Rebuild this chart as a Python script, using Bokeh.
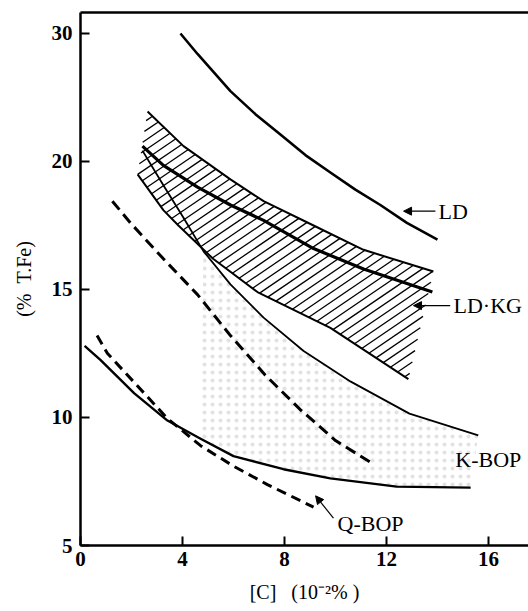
import numpy as np
from bokeh.plotting import figure
from bokeh.models import Range1d, FixedTicker, LinearAxis, Label, Arrow, NormalHead
from bokeh.embed import file_html
from bokeh.resources import INLINE

# ---------------- axis definitions ----------------
X_TICKS = [0, 4, 8, 12, 16]
Y_TICK_VALUES = [5, 10, 15, 20, 30]      # % T.Fe labels (equally spaced in the original figure)
Y_TICK_POS = [0, 1, 2, 3, 4]

def ypos(v):
    return np.interp(v, Y_TICK_VALUES, Y_TICK_POS)

# ---------------- data: [C] (10^-2 %) vs % T.Fe ----------------
LD_C = [3.92, 4.59, 5.88, 6.86, 7.84, 8.82, 9.80, 10.78, 11.76, 12.8, 14.0]
LD_FE = [30.0, 28.4, 25.5, 23.7, 22.1, 20.5, 19.57, 18.9, 18.3, 17.6, 16.95]

LDKG_C = [2.43, 3.25, 4.59, 5.88, 7.18, 9.14, 11.1, 13.8]
LDKG_FE = [21.2, 19.85, 19.0, 18.3, 17.7, 16.6, 15.8, 14.9]

BAND_TOP_C = [2.63, 4.04, 5.88, 7.18, 9.14, 11.1, 13.84]
BAND_TOP_FE = [23.9, 21.2, 19.3, 18.45, 17.5, 16.55, 15.7]
BAND_BOT_C = [2.24, 3.25, 3.84, 5.2, 6.94, 9.8, 12.86]
BAND_BOT_FE = [19.5, 18.1, 17.5, 16.2, 14.9, 13.5, 11.5]

KBOP_TOP_C = [2.43, 3.25, 4.04, 4.82, 5.88, 7.18, 8.75, 10.6, 12.9, 15.6]
KBOP_TOP_FE = [20.85, 19.07, 17.8, 16.5, 15.2, 13.9, 12.6, 11.4, 10.15, 9.3]

LOW_C = [0.16, 0.78, 2.1, 3.41, 4.71, 6.0, 7.96, 9.8, 12.4, 15.3]
LOW_FE = [12.8, 12.25, 10.95, 9.88, 9.17, 8.49, 7.98, 7.62, 7.3, 7.26]

QBOP_C = [0.65, 1.06, 2.08, 3.41, 4.71, 6.0, 7.33, 9.14]
QBOP_FE = [13.2, 12.5, 11.4, 9.96, 8.9, 8.1, 7.38, 6.5]

UD_C = [1.25, 1.96, 3.25, 4.59, 5.88, 7.25, 8.63, 10.0, 11.45]
UD_FE = [18.45, 17.6, 16.2, 14.8, 13.2, 11.65, 10.3, 9.1, 8.2]

FONT = "Liberation Serif"
X_END, Y_END = 17.57, 4.164
FRAME_W, FRAME_H = 448, 533
SX, SY = FRAME_W / X_END, FRAME_H / Y_END   # pixels per data unit

p = figure(width=528, height=611, x_range=Range1d(0, X_END), y_range=Range1d(0, Y_END),
           output_backend="svg", toolbar_location=None,
           min_border_left=80, min_border_right=0, min_border_top=12, min_border_bottom=66)
p.grid.visible = False
p.outline_line_color = None
p.background_fill_color = "white"
p.border_fill_color = "white"

# ---------------- axes ----------------
xa = p.xaxis[0]
xa.ticker = FixedTicker(ticks=X_TICKS)
xa.axis_label = "[C]\u00a0\u00a0\u00a0(10\u207b\u00b2%\u00a0)"
ya = p.yaxis[0]
ya.ticker = FixedTicker(ticks=Y_TICK_POS)
ya.major_label_overrides = {pos: str(v) for pos, v in zip(Y_TICK_POS, Y_TICK_VALUES)}
ya.axis_label = "(%\u00a0\u00a0T.Fe)"
for ax in (xa, ya):
    ax.axis_line_width = 2.5
    ax.axis_line_color = "black"
    ax.major_tick_in = 9
    ax.major_tick_out = 0
    ax.major_tick_line_width = 2
    ax.minor_tick_in = 0
    ax.minor_tick_out = 0
    ax.major_label_text_font = FONT
    ax.major_label_text_font_size = "21px"
    ax.major_label_text_font_style = "bold"
    ax.major_label_text_color = "black"
    ax.axis_label_text_font = FONT
    ax.axis_label_text_font_size = "20px"
    ax.axis_label_text_font_style = "normal"
    ax.axis_label_text_color = "black"
xa.major_label_standoff = 6
xa.axis_label_standoff = 12
ya.major_label_standoff = 8
ya.axis_label_standoff = 14

top = LinearAxis(ticker=FixedTicker(ticks=[]), major_tick_in=0, major_tick_out=0,
                 minor_tick_in=0, minor_tick_out=0, major_label_text_font_size="0px",
                 axis_line_width=2.5, major_label_standoff=0)
p.add_layout(top, "above")

# ---------------- stippled K-BOP area ----------------
stip_x = KBOP_TOP_C[3:] + LOW_C[4:][::-1]
stip_y = list(ypos(KBOP_TOP_FE[3:])) + list(ypos(LOW_FE[4:]))[::-1]
p.patch(stip_x, stip_y, fill_alpha=0, line_color=None, hatch_pattern=".",
        hatch_color="#a0a0a0", hatch_alpha=0.3, hatch_scale=8, hatch_weight=0.3)

# ---------------- hatched LD-KG band (diagonal hatch lines clipped to band) ----------------
band_x = BAND_TOP_C + BAND_BOT_C[::-1]
band_y = list(ypos(BAND_TOP_FE)) + list(ypos(BAND_BOT_FE))[::-1]
PX = np.array(band_x) * SX
PY = np.array(band_y) * SY
TAN = 0.68
STEP = 9.6
kvals = PY - PX * TAN
hx0, hy0, hx1, hy1 = [], [], [], []
n = len(PX)
for k in np.arange(kvals.min() + STEP / 2, kvals.max(), STEP):
    xs = []
    for i in range(n):
        x1, y1, x2, y2 = PX[i], PY[i], PX[(i + 1) % n], PY[(i + 1) % n]
        f1, f2 = y1 - x1 * TAN - k, y2 - x2 * TAN - k
        if (f1 > 0) != (f2 > 0):
            t = f1 / (f1 - f2)
            xs.append(x1 + t * (x2 - x1))
    xs.sort()
    for a, b in zip(xs[0::2], xs[1::2]):
        hx0.append(a / SX); hy0.append((a * TAN + k) / SY)
        hx1.append(b / SX); hy1.append((b * TAN + k) / SY)
p.segment(hx0, hy0, hx1, hy1, line_color="black", line_width=1.3)
p.line(BAND_TOP_C, ypos(BAND_TOP_FE), line_color="black", line_width=2, line_join="round")
p.line(BAND_BOT_C, ypos(BAND_BOT_FE), line_color="black", line_width=2, line_join="round")

# ---------------- curves ----------------
p.line(LD_C, ypos(LD_FE), line_color="black", line_width=2.6, line_join="round")
p.line(LDKG_C, ypos(LDKG_FE), line_color="black", line_width=3.2, line_join="round")
p.line(KBOP_TOP_C, ypos(KBOP_TOP_FE), line_color="black", line_width=1.8, line_join="round")
p.line(LOW_C, ypos(LOW_FE), line_color="black", line_width=2.4, line_join="round")
p.line(UD_C, ypos(UD_FE), line_color="black", line_width=3, line_dash="11 6")
p.line(QBOP_C, ypos(QBOP_FE), line_color="black", line_width=3, line_dash="10 6")

# ---------------- labels ----------------
def add_label(txt, c, fe):
    p.add_layout(Label(x=c, y=float(ypos(fe)), text=txt, text_font=FONT, text_font_size="22px",
                       text_baseline="middle", text_align="left", text_color="black"))

def add_arrow(c0, fe0, c1, fe1):
    p.add_layout(Arrow(end=NormalHead(size=8, fill_color="black", line_color="black"),
                       x_start=c0, y_start=float(ypos(fe0)), x_end=c1, y_end=float(ypos(fe1)),
                       line_width=1.2, line_color="black"))

add_label("LD", 14.04, 18.06)
add_arrow(13.92, 18.06, 12.67, 18.06)
add_label("LD\u00b7KG", 14.63, 14.37)
add_arrow(14.5, 14.37, 13.06, 14.37)
add_label("K-BOP", 14.7, 8.37)
add_label("Q-BOP", 10.08, 5.87)
add_arrow(9.92, 6.07, 9.22, 6.94)

open("out.html", "w").write(file_html(p, INLINE))
